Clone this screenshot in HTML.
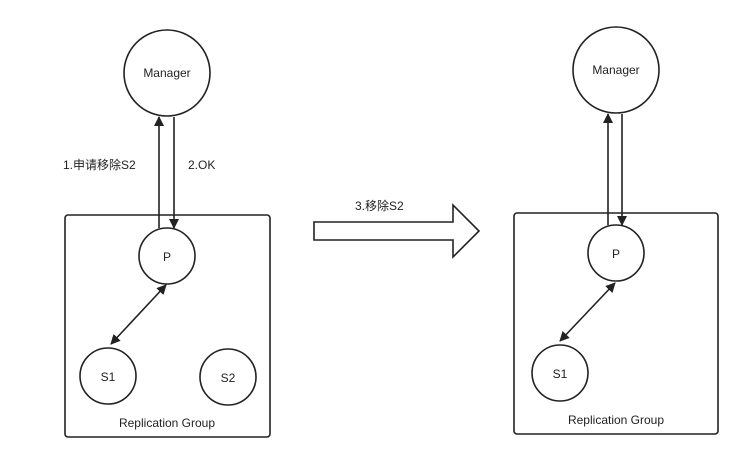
<!DOCTYPE html>
<html><head><style>body{margin:0;background:#fff}svg{display:block}text{font-family:"Liberation Sans","Noto Sans CJK SC",sans-serif;font-size:12px;fill:#222}</style></head>
<body>
<svg width="744" height="466" viewBox="0 0 744 466">
<defs>
<marker id="a" markerWidth="10" markerHeight="10" refX="9" refY="5" orient="auto" markerUnits="userSpaceOnUse"><path d="M0,0 L10,5 L0,10 z" fill="#222"/></marker>
<marker id="b" markerWidth="10" markerHeight="10" refX="1" refY="5" orient="auto" markerUnits="userSpaceOnUse"><path d="M10,0 L0,5 L10,10 z" fill="#222"/></marker>
</defs>
<g fill="none" stroke="#222" stroke-width="1.6">
<rect x="65" y="215" width="205" height="222" rx="3"/>
<circle cx="167" cy="73" r="43"/>
<circle cx="167" cy="256" r="28"/>
<circle cx="108" cy="376" r="28"/>
<circle cx="228" cy="377" r="28"/>
<line x1="159" y1="228" x2="159" y2="117" marker-end="url(#a)"/>
<line x1="174" y1="117" x2="174" y2="228" marker-end="url(#a)"/>
<line x1="111" y1="344" x2="166" y2="285" marker-start="url(#b)" marker-end="url(#a)"/>
<path d="M314,222 H453 V205 L479,231 L453,257 V240 H314 Z"/>
<rect x="514" y="213" width="204" height="221" rx="3"/>
<circle cx="616" cy="70" r="43"/>
<circle cx="616" cy="253" r="28"/>
<circle cx="560" cy="373" r="28"/>
<line x1="608" y1="225" x2="608" y2="114" marker-end="url(#a)"/>
<line x1="622" y1="114" x2="622" y2="225" marker-end="url(#a)"/>
<line x1="560" y1="341" x2="615" y2="283" marker-start="url(#b)" marker-end="url(#a)"/>
</g>
<text x="167" y="77" text-anchor="middle">Manager</text>
<text x="167" y="261" text-anchor="middle">P</text>
<text x="108" y="381" text-anchor="middle">S1</text>
<text x="228" y="382" text-anchor="middle">S2</text>
<text x="167" y="427" text-anchor="middle">Replication Group</text>
<text x="63" y="169">1.申请移除S2</text>
<text x="188" y="169">2.OK</text>
<text x="355" y="210">3.移除S2</text>
<text x="616" y="74" text-anchor="middle">Manager</text>
<text x="616" y="258" text-anchor="middle">P</text>
<text x="560" y="378" text-anchor="middle">S1</text>
<text x="616" y="424" text-anchor="middle">Replication Group</text>
</svg>
</body></html>
